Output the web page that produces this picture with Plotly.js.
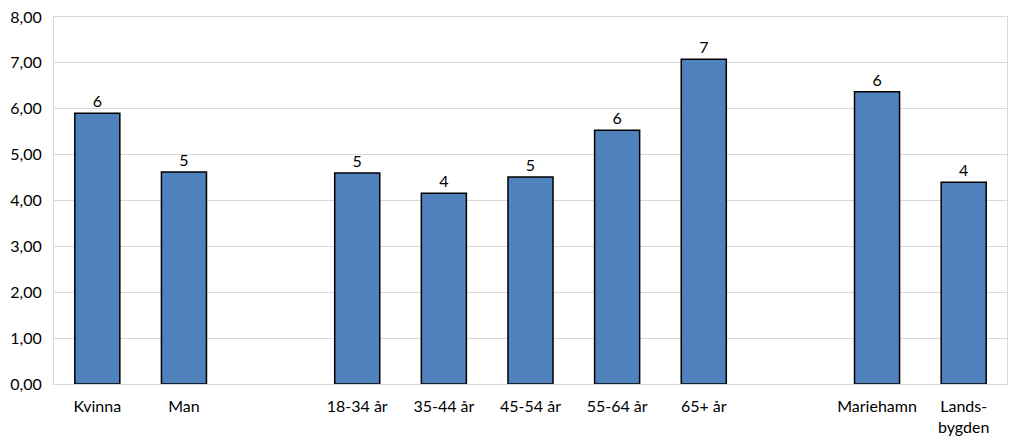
<!DOCTYPE html>
<html><head><meta charset="utf-8">
<script src="https://cdn.plot.ly/plotly-3.0.1.min.js"></script>
<style>html,body{margin:0;padding:0;background:#fff}#chart{width:1023px;height:445px}</style>
</head><body><div id="chart"></div>
<script>
var categories = ["Kvinna","Man","","18-34 år","35-44 år","45-54 år","55-64 år","65+ år","","Mariehamn","Lands-<br>bygden"];
var values = [5.90, 4.62, null, 4.60, 4.16, 4.51, 5.53, 7.08, null, 6.37, 4.40];
var yTicks = [0,1,2,3,4,5,6,7,8];
var yTickLabels = ["0,00","1,00","2,00","3,00","4,00","5,00","6,00","7,00","8,00"];

var xs = categories.map(function(c,i){return i;});
var labels = values.map(function(v){return v===null?"":String(Math.round(v));});

var font = {family:"Lato, Open Sans, sans-serif", size:16, color:"#000"};
Plotly.newPlot("chart",[{
  type:"bar", x:xs, y:values, text:labels, textposition:"outside", cliponaxis:false,
  textfont:{family:font.family,size:16,color:"#000"},
  marker:{color:"#4f81bd", line:{color:"#000", width:1.5}},
  hoverinfo:"none"
}],{
  width:1023, height:445,
  margin:{l:54,r:16,t:17,b:61},
  paper_bgcolor:"#fff", plot_bgcolor:"#fff",
  bargap:0.48, showlegend:false,
  font:font,
  xaxis:{range:[-0.5,10.5], tickvals:xs, ticktext:categories, showgrid:false, zeroline:false,
         showline:true, linecolor:"#d9d9d9", linewidth:1, mirror:true, ticks:"", ticklen:0, tickfont:font,
         ticklabelstandoff:8},
  yaxis:{range:[0,8], tickvals:yTicks, ticktext:yTickLabels, showgrid:true, gridcolor:"#d9d9d9", gridwidth:1,
         zeroline:false, showline:true, linecolor:"#d9d9d9", mirror:true, ticks:"", tickfont:font,
         ticklabelstandoff:8}
},{staticPlot:true});
</script></body></html>
